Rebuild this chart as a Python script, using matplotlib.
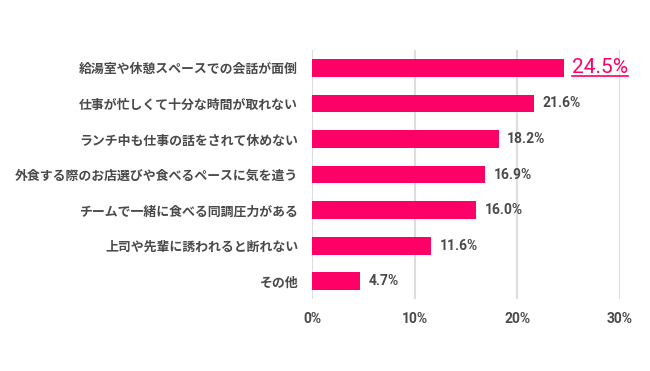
import matplotlib
matplotlib.use("Agg")
import matplotlib.pyplot as plt
from matplotlib.lines import Line2D

plt.rcParams["font.family"] = ["Noto Sans CJK JP", "DejaVu Sans"]

# ----------------------------
# Data
# ----------------------------
categories = [
    "給湯室や休憩スペースでの会話が面倒",
    "仕事が忙しくて十分な時間が取れない",
    "ランチ中も仕事の話をされて休めない",
    "外食する際のお店選びや食べるペースに気を遣う",
    "チームで一緒に食べる同調圧力がある",
    "上司や先輩に誘われると断れない",
    "その他",
]
values = [24.5, 21.6, 18.2, 16.9, 16.0, 11.6, 4.7]
xticks = [0, 10, 20, 30]

PINK = "#FF0066"
TEXT = "#4a4a4a"
GRID = "#dddddd"
NUM_FONT = ["Roboto", "DejaVu Sans"]

fig = plt.figure(figsize=(6.5, 3.71), dpi=100)
ax = fig.add_axes([0.48, 0.194, 0.4738, 0.671])

y = list(range(len(categories)))
ax.barh(y, values, height=0.5, color=PINK, zorder=3)

ax.set_ylim(len(categories) - 0.5, -0.5)
ax.set_xlim(0, 30)
ax.set_yticks(y)
ax.set_yticklabels(categories, fontsize=9.3, fontweight="bold", color=TEXT)
ax.set_xticks(xticks)
ax.set_xticklabels([f"{t}%" for t in xticks], fontsize=10, fontweight="bold",
                   color=TEXT, family=NUM_FONT)
ax.tick_params(axis="both", length=0)
ax.tick_params(axis="y", pad=10)
ax.tick_params(axis="x", pad=9)

for s in ax.spines.values():
    s.set_visible(False)
ax.grid(axis="x", color=GRID, linewidth=1.5, zorder=0)

# value labels
top_text = None
for i, v in enumerate(values):
    if i == 0:
        top_text = ax.annotate(f"{v}%", (v, i), xytext=(6, 0), textcoords="offset points",
                               va="center", ha="left", fontsize=15, color=PINK,
                               family=NUM_FONT)
    else:
        ax.annotate(f"{v}%", (v, i), xytext=(6, 0), textcoords="offset points",
                    va="center", ha="left", fontsize=10, fontweight="bold", color=TEXT,
                    family=NUM_FONT)

# underline the highlighted value
fig.canvas.draw()
bb = top_text.get_window_extent().transformed(fig.transFigure.inverted())
uy = bb.y0 + 0.004
fig.add_artist(Line2D([bb.x0, bb.x1], [uy, uy], transform=fig.transFigure,
                      color=PINK, linewidth=1.2))

fig.savefig("out.png", dpi=100)
